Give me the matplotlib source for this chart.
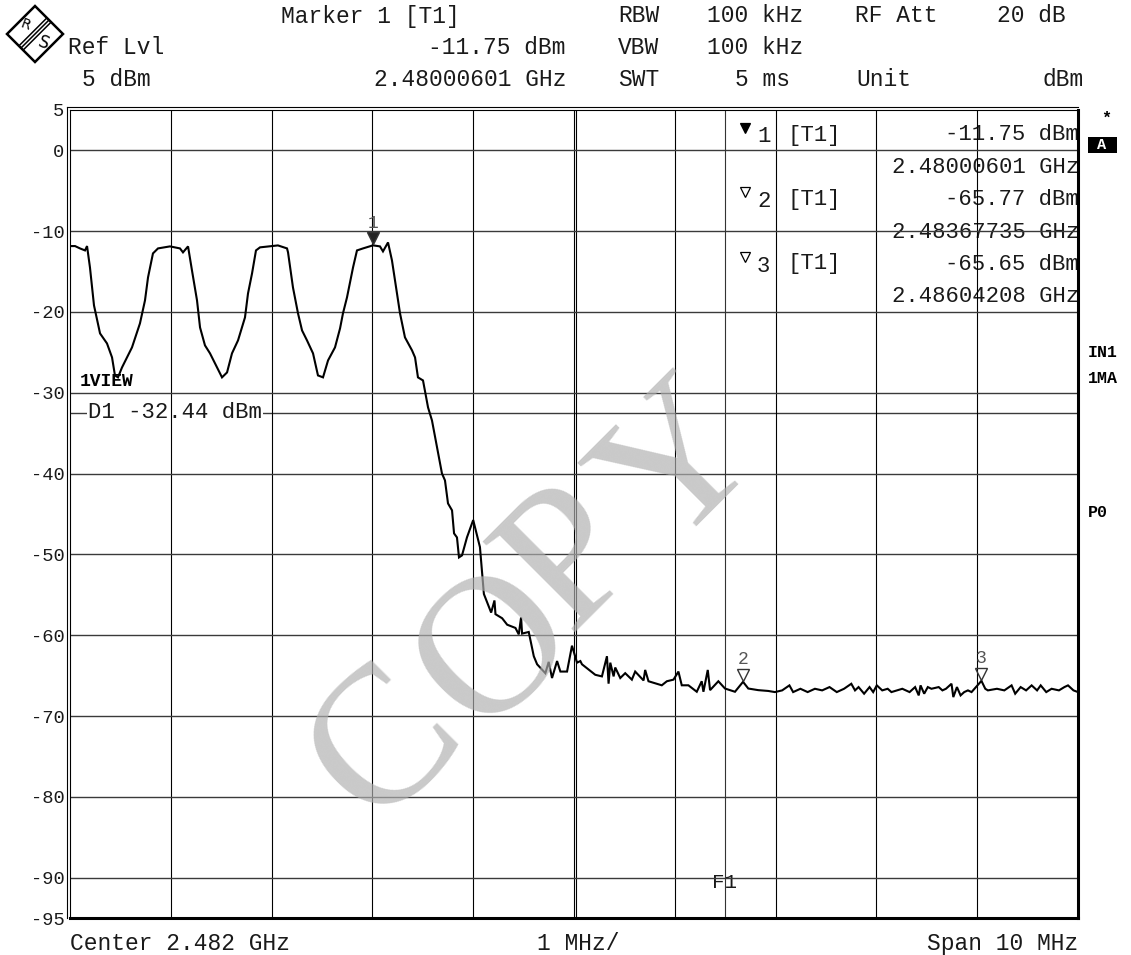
import numpy as np
import matplotlib
matplotlib.use("Agg")
import matplotlib.pyplot as plt
from matplotlib.patches import Polygon, Rectangle
from matplotlib.lines import Line2D
import matplotlib.transforms as mtransforms

# ---------------- data ----------------
center_ghz = 2.482
span_mhz = 10.0
ref_level_dbm = 5.0
bottom_dbm = -95.0

# trace: offset from start of span (MHz) and level (dBm)
trace_offset_mhz = [
    0.000, 0.050, 0.099, 0.149, 0.169, 0.198, 0.238, 0.298, 0.367, 0.417,
    0.446, 0.476, 0.516, 0.615, 0.694, 0.744, 0.774, 0.823, 0.873, 0.992,
    1.091, 1.121, 1.171, 1.210, 1.260, 1.290, 1.339, 1.389, 1.458, 1.508,
    1.558, 1.607, 1.667, 1.736, 1.766, 1.806, 1.845, 1.885, 2.063, 2.153,
    2.163, 2.212, 2.262, 2.302, 2.351, 2.411, 2.460, 2.510, 2.560, 2.629,
    2.679, 2.708, 2.748, 2.778, 2.808, 2.847, 2.907, 3.006, 3.075, 3.105,
    3.155, 3.194, 3.244, 3.274, 3.323, 3.393, 3.423, 3.452, 3.502, 3.552,
    3.591, 3.641, 3.690, 3.720, 3.750, 3.790, 3.810, 3.839, 3.859, 3.889,
    3.938, 4.000, 4.067, 4.106, 4.178, 4.211, 4.221, 4.287, 4.337, 4.419,
    4.452, 4.475, 4.485, 4.551, 4.601, 4.634, 4.716, 4.749, 4.782, 4.832,
    4.865, 4.931, 4.980, 5.030, 5.063, 5.079, 5.211, 5.277, 5.327, 5.343,
    5.360, 5.393, 5.409, 5.459, 5.508, 5.574, 5.607, 5.690, 5.706, 5.739,
    5.871, 5.921, 5.987, 6.036, 6.069, 6.135, 6.218, 6.267, 6.284, 6.327,
    6.350, 6.432, 6.498, 6.597, 6.677, 6.729, 6.828, 6.927, 6.993, 7.065,
    7.137, 7.174, 7.246, 7.318, 7.390, 7.462, 7.535, 7.607, 7.679, 7.751,
    7.788, 7.823, 7.878, 7.932, 7.968, 8.004, 8.058, 8.112, 8.149, 8.203,
    8.257, 8.329, 8.384, 8.420, 8.438, 8.474, 8.510, 8.546, 8.618, 8.655,
    8.690, 8.745, 8.763, 8.799, 8.835, 8.871, 8.908, 8.944, 9.042, 9.080,
    9.106, 9.196, 9.269, 9.341, 9.377, 9.431, 9.485, 9.540, 9.594, 9.630,
    9.685, 9.738, 9.811, 9.865, 9.901, 9.955, 10.000,
]
trace_dbm = [
    -11.84, -11.84, -12.13, -12.38, -11.84, -14.48, -19.18, -22.65, -23.89, -25.62,
    -27.85, -28.09, -26.86, -24.38, -21.41, -18.56, -15.72, -12.75, -12.13, -11.88,
    -12.13, -12.62, -11.88, -14.85, -18.56, -21.91, -24.13, -25.12, -26.86, -28.09,
    -27.48, -25.12, -23.51, -20.67, -17.70, -15.22, -12.38, -12.00, -11.76, -12.13,
    -12.62, -16.96, -20.17, -22.28, -23.51, -25.12, -27.85, -28.09, -25.99, -24.38,
    -22.03, -20.17, -18.19, -16.34, -14.48, -12.38, -12.13, -11.75, -11.88, -12.50,
    -11.39, -13.61, -17.70, -20.17, -23.14, -24.75, -25.62, -28.09, -28.47, -31.81,
    -33.42, -36.76, -39.98, -40.84, -43.69, -44.55, -47.40, -47.90, -50.37, -50.12,
    -47.90, -45.75, -49.10, -54.90, -57.20, -55.70, -57.40, -57.90, -58.70, -59.10,
    -59.90, -57.80, -59.80, -59.60, -62.60, -63.60, -64.70, -63.30, -65.30, -63.20,
    -64.50, -64.50, -61.30, -63.40, -63.20, -63.60, -64.90, -65.10, -62.60, -66.00,
    -63.40, -65.10, -64.00, -65.30, -64.70, -65.50, -64.50, -65.60, -64.30, -65.70,
    -66.20, -65.70, -65.50, -64.50, -66.20, -66.20, -67.00, -65.70, -67.00, -64.30,
    -66.80, -65.70, -66.60, -67.00, -65.77, -66.60, -66.80, -66.90, -67.04, -66.83,
    -66.21, -67.04, -66.63, -67.04, -66.63, -66.83, -66.42, -67.04, -66.63, -66.01,
    -66.83, -66.42, -67.24, -66.42, -67.04, -66.21, -66.83, -66.63, -67.04, -66.83,
    -66.63, -67.04, -66.42, -67.45, -66.21, -67.24, -66.42, -66.63, -66.42, -66.83,
    -66.63, -66.01, -67.66, -66.42, -67.45, -67.04, -66.83, -67.04, -65.65, -66.63,
    -66.83, -66.63, -66.83, -66.21, -67.24, -66.42, -66.83, -66.21, -66.83, -66.21,
    -67.04, -66.63, -66.83, -66.42, -66.21, -66.83, -67.04,
]

marker_ids = ["1", "2", "3"]
marker_freq_ghz = [2.48000601, 2.48367735, 2.48604208]
marker_dbm = [-11.75, -65.77, -65.65]
marker_filled = [True, False, False]

display_line_dbm = -32.44
f1_line_ghz = 2.4835

ytick_values = [5, 0, -10, -20, -30, -40, -50, -60, -70, -80, -90, -95]
ytick_labels = ["5", "0", "-10", "-20", "-30", "-40", "-50", "-60", "-70", "-80", "-90", "-95"]
grid_db = [0, -10, -20, -30, -40, -50, -60, -70, -80, -90]

# ---------------- figure ----------------
W, H = 1131, 955
fig = plt.figure(figsize=(W / 100, H / 100), dpi=100)
fig.patch.set_facecolor("white")
MONO = "Liberation Mono"
TXT = "#1a1a1a"

L, R, T, B = 70, 1078, 110, 918
ax = fig.add_axes([L / W, 1 - B / H, (R - L) / W, (B - T) / H])

start_ghz = center_ghz - span_mhz / 2 / 1000
stop_ghz = center_ghz + span_mhz / 2 / 1000
freq_ghz = start_ghz + np.array(trace_offset_mhz) / 1000.0

ax.set_xlim(start_ghz, stop_ghz)
ax.set_ylim(bottom_dbm, ref_level_dbm)
ax.set_xticks([])
ax.set_yticks(ytick_values)
ax.set_yticklabels(ytick_labels, fontfamily=MONO, fontsize=13.5, color=TXT)
ax.tick_params(axis="y", length=0, pad=4)


def P(x, y):
    """pixel position -> axes fraction"""
    return ((x - L) / (R - L), (B - y) / (B - T))


# grid
for i in range(1, int(span_mhz)):
    ax.axvline(start_ghz + i / 1000.0, color="black", lw=0.8, zorder=2)
ax.axvline(center_ghz + 0.00002, color="black", lw=0.8, zorder=2)  # double center line
for g in grid_db:
    ax.axhline(g, color="#3a3a3a", lw=1.0, zorder=2)
ax.axvline(f1_line_ghz, color="#333333", lw=0.8, zorder=2)
ax.axhline(display_line_dbm, color="#3a3a3a", lw=1.0, zorder=1)

# frame
for s in ["left", "top"]:
    ax.spines[s].set_linewidth(0.8)
for s in ["right", "bottom"]:
    ax.spines[s].set_linewidth(2.2)
x0, y0 = P(L - 3, 0)
_, y1 = P(0, T - 3)
ax.add_line(Line2D([x0, x0], [0, y1], transform=ax.transAxes, color="black", lw=0.8, clip_on=False))
ax.add_line(Line2D([x0, 1], [y1, y1], transform=ax.transAxes, color="black", lw=0.8, clip_on=False))

# trace
ax.plot(freq_ghz, trace_dbm, color="black", lw=1.5, zorder=3, solid_joinstyle="miter")

# markers on trace
tri_off = mtransforms.offset_copy(ax.transData, fig=fig, x=0, y=7, units="dots")
lab_off = mtransforms.offset_copy(ax.transData, fig=fig, x=0, y=22, units="dots")
for mid, mf, md, filled in zip(marker_ids, marker_freq_ghz, marker_dbm, marker_filled):
    ax.plot([mf], [md], marker="v", ms=8.5, mfc="#222222" if filled else "none",
            mec="#333333", mew=1.0, transform=tri_off, zorder=4, clip_on=False)
    ax.text(mf, md, mid, transform=lab_off, ha="center", va="center",
            fontfamily=MONO, fontsize=13, color="#555555", zorder=4)

# marker table
rows_y = [135, 167.5, 199.5, 232, 264, 297]
for k, (mid, mf, md, filled) in enumerate(zip(marker_ids, marker_freq_ghz, marker_dbm, marker_filled)):
    yl = rows_y[2 * k]
    yf = rows_y[2 * k + 1]
    ax.plot(*P(745, yl - 7), marker="v", ms=7.5, mfc="black" if filled else "white",
            mec="black", mew=0.9, transform=ax.transAxes, zorder=1)
    ax.text(*P(757, yl + 2), mid, transform=ax.transAxes, ha="left", va="center",
            fontfamily=MONO, fontsize=16, color=TXT, zorder=1)
    ax.text(*P(788, yl), "[T1]", transform=ax.transAxes, ha="left", va="center",
            fontfamily=MONO, fontsize=16, color=TXT, zorder=1)
    ax.text(*P(1079, yl), f"{md:.2f} dBm", transform=ax.transAxes, ha="right", va="center",
            fontfamily=MONO, fontsize=16, color=TXT, zorder=1)
    ax.text(*P(1079, yf), f"{mf:.8f} GHz", transform=ax.transAxes, ha="right", va="center",
            fontfamily=MONO, fontsize=16, color=TXT, zorder=1)

# display line label and trace label
ax.text(*P(88, 413), f"D1 {display_line_dbm:.2f} dBm", transform=ax.transAxes, ha="left",
        va="center", fontfamily=MONO, fontsize=16, color=TXT, zorder=1.5,
        bbox=dict(boxstyle="square,pad=0.05", fc="white", ec="none"))
ax.text(*P(80, 382), "1VIEW", transform=ax.transAxes, ha="left", va="center",
        fontfamily=MONO, fontsize=13, fontweight="bold", color="black", zorder=1)
ax.text(*P(725, 882), "F1", transform=ax.transAxes, ha="center", va="center",
        fontfamily=MONO, fontsize=15, color=TXT, zorder=1.5)

# watermark
for ch, (cx, cy) in zip("COPY", [(387, 746), (497, 651), (574, 561), (684, 470)]):
    ax.text(*P(cx, cy), ch, transform=ax.transAxes, ha="center", va="center",
            rotation=45, rotation_mode="anchor", fontfamily="Liberation Serif",
            fontsize=142, color="#b0b0b0", alpha=0.68, zorder=10)

# ---------------- overlay for header / side / footer ----------------
ov = fig.add_axes([0, 0, 1, 1])
ov.set_xlim(0, W)
ov.set_ylim(H, 0)
ov.axis("off")


def t(x, y, s, ha="left", size=16.5, **kw):
    ov.text(x, y, s, ha=ha, va="center", fontfamily=MONO, fontsize=size,
            color=kw.pop("color", TXT), **kw)


t(281, 16, "Marker 1 [T1]")
t(68, 48, "Ref Lvl")
t(565, 48, "-11.75 dBm", ha="right")
t(82, 80, "5 dBm")
t(567, 80, "2.48000601 GHz", ha="right")
t(618, 16, "RBW")
t(707, 16, "100 kHz")
t(855, 16, "RF Att")
t(1066, 16, "20 dB", ha="right")
t(618, 48, "VBW")
t(707, 48, "100 kHz")
t(618, 80, "SWT")
t(790, 80, "5 ms", ha="right")
t(856, 80, "Unit")
t(1084, 80, "dBm", ha="right")

# footer
t(70, 943, "Center 2.482 GHz")
t(537, 943, "1 MHz/")
t(1078, 943, "Span 10 MHz", ha="right")

# right side annotations
t(1106, 118, "*", ha="center", size=12, fontweight="bold", color="black")
ov.add_patch(Rectangle((1088, 137), 29, 16, fc="black", ec="none"))
t(1102, 145, "A", ha="center", size=11, fontweight="bold", color="white")
t(1088, 352, "IN1", size=12, fontweight="bold", color="black")
t(1088, 378, "1MA", size=12, fontweight="bold", color="black")
t(1088, 512, "P0", size=12, fontweight="bold", color="black")

# R&S logo
cx, cy, r = 35, 34, 28
ov.add_patch(Polygon([(cx, cy - r), (cx + r, cy), (cx, cy + r), (cx - r, cy)], closed=True,
                     fc="white", ec="black", lw=1.8))
for d in (-3, 0, 3):
    ov.add_line(Line2D([cx + r / 2 + d * 0.7, cx - r / 2 + d * 0.7],
                       [cy - r / 2 + d * 0.7, cy + r / 2 + d * 0.7], color="black", lw=1.1))
ov.text(cx - 9, cy - 9, "R", ha="center", va="center", rotation=-20, fontfamily="DejaVu Sans",
        fontsize=10, color="black")
ov.text(cx + 9, cy + 9, "S", ha="center", va="center", rotation=-20, fontfamily="DejaVu Sans",
        fontsize=12, color="black")

fig.savefig("out.png", dpi=100, facecolor="white")
